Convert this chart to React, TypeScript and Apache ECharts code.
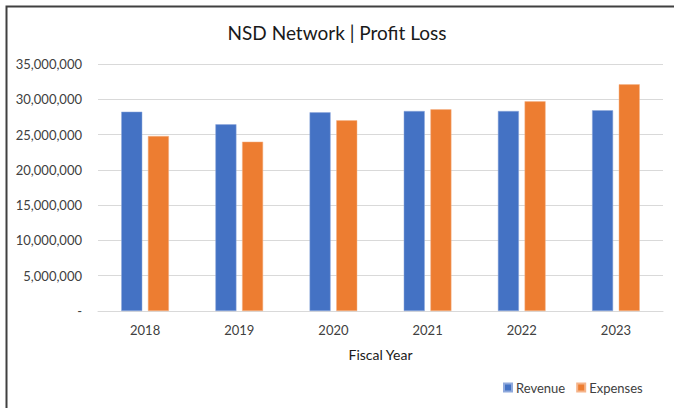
import React, { useEffect, useRef } from "react";
import * as echarts from "echarts";

const categories = ["2018", "2019", "2020", "2021", "2022", "2023"];
const revenue = [28240000, 26450000, 28150000, 28340000, 28340000, 28440000];
const expenses = [24800000, 23990000, 27020000, 28580000, 29710000, 32120000];
const FONT = "Lato, 'Liberation Sans', sans-serif";

export default function App() {
  const ref = useRef<HTMLDivElement>(null);
  useEffect(() => {
    if (!ref.current) return;
    const chart = echarts.init(ref.current, null, { renderer: "svg" });
    chart.setOption({
      animation: false,
      backgroundColor: "#ffffff",
      title: {
        text: "NSD Network | Profit Loss",
        left: "center",
        top: 18,
        textStyle: { fontFamily: FONT, fontSize: 19, fontWeight: "normal", color: "#1a1a1a" },
      },
      graphic: [
        {
          type: "polyline",
          shape: { points: [[6.5, 420], [6.5, 6.5], [690, 6.5]] },
          style: { stroke: "#404040", lineWidth: 2, fill: null },
          silent: true,
        },
      ],
      legend: {
        data: ["Revenue", "Expenses"],
        left: 498,
        top: 376,
        itemWidth: 8,
        itemHeight: 8,
        itemGap: 11,
        icon: "rect",
        textStyle: { fontFamily: FONT, fontSize: 13, color: "#404040", padding: [0, 0, 0, -1] },
      },
      grid: { left: 98, right: 11, top: 64, bottom: 97, containLabel: false },
      xAxis: {
        type: "category",
        data: categories,
        name: "Fiscal Year",
        nameLocation: "middle",
        nameGap: 36,
        nameTextStyle: { fontFamily: FONT, fontSize: 14, color: "#1a1a1a" },
        axisLine: { show: true, lineStyle: { color: "#d9d9d9", width: 1 } },
        axisTick: { show: false },
        axisLabel: { fontFamily: FONT, fontSize: 13, color: "#404040", margin: 12 },
      },
      yAxis: {
        type: "value",
        min: 0,
        max: 35000000,
        interval: 5000000,
        axisLine: { show: false },
        axisTick: { show: false },
        splitLine: { lineStyle: { color: "#d9d9d9", width: 1 } },
        axisLabel: {
          fontFamily: FONT,
          fontSize: 13,
          color: "#404040",
          margin: 16,
          formatter: (v: number) => (v === 0 ? "-" : v.toLocaleString("en-US")),
        },
      },
      series: [
        {
          name: "Revenue",
          type: "bar",
          data: revenue,
          barWidth: 21,
          barGap: "27%",
          itemStyle: { color: "#4472C4", borderColor: "#8fa9dc", borderWidth: 0.5 },
        },
        {
          name: "Expenses",
          type: "bar",
          data: expenses,
          barWidth: 21,
          barGap: "27%",
          itemStyle: { color: "#ED7D31", borderColor: "#f5b48a", borderWidth: 0.5 },
        },
      ],
    });
    return () => chart.dispose();
  }, []);
  return (
    <div
      ref={ref}
      style={{ position: "fixed", left: 0, top: 0, width: 674, height: 408 }}
    />
  );
}
